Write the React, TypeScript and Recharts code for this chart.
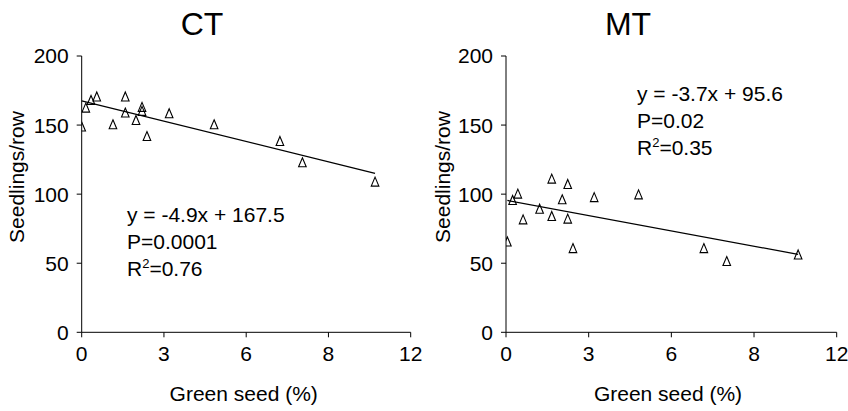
import React from "react";
import { ReferenceLine, Scatter, ScatterChart, XAxis, YAxis } from "recharts";

const FONT = "'Liberation Sans', Arial, Helvetica, sans-serif";

// green seed (%) per lot, and seedling counts under each tillage system
const ctGreenSeed = [0, 0.15, 0.34, 0.55, 1.14, 1.59, 1.59, 1.98, 2.2, 2.2, 2.38, 3.19, 4.83, 7.23, 8.05, 10.7];
const ctSeedlings = [148.6, 162.3, 167.8, 170.3, 150.2, 170.3, 158.7, 153.3, 162.8, 159.9, 141.7, 158.2, 150.2, 138.1, 122.7, 108.7];

const mtGreenSeed = [0.05, 0.24, 0.43, 0.62, 1.22, 1.66, 1.66, 2.04, 2.24, 2.24, 2.43, 3.2, 4.81, 7.18, 8.01, 10.6];
const mtSeedlings = [65.4, 95.4, 100, 81.4, 89.1, 110.9, 83.8, 95.9, 107, 81.9, 60.6, 97.5, 99.5, 60.6, 51.2, 56];

// fitted regressions (slope, intercept) and stats
const ctFit = { slope: -4.9, intercept: 167.5, p: "0.0001", r2: "0.76" };
const mtFit = { slope: -3.7, intercept: 95.6, p: "0.02", r2: "0.35" };

const xTicks = [0, 3, 6, 9, 12];
const xTickLabels = ["0", "3", "6", "8", "12"];
const yTicks = [0, 50, 100, 150, 200];

type Fit = typeof ctFit;

function Triangle(props: any) {
  const { cx, cy } = props;
  return (
    <path
      d={`M${cx},${cy - 5}L${cx + 3.8},${cy + 4}L${cx - 3.8},${cy + 4}Z`}
      fill="none"
      stroke="#000"
      strokeWidth={1.1}
    />
  );
}

function fmtSlope(m: number) {
  return `y = ${m}x + `;
}

interface PanelProps {
  title: string;
  xs: number[];
  ys: number[];
  fit: Fit;
  width: number;
  margin: { top: number; right: number; bottom: number; left: number };
  statsX: number;
  statsY: number;
}

function Panel({ title, xs, ys, fit, width, margin, statsX, statsY }: PanelProps) {
  const points = xs.map((x, i) => ({ x, y: ys[i] }));
  const x0 = Math.min(...xs);
  const x1 = Math.max(...xs);
  const txt = { fontFamily: FONT, fill: "#000" };

  return (
    <ScatterChart width={width} height={411} margin={margin}>
      <XAxis
        type="number"
        dataKey="x"
        domain={[0, 12]}
        ticks={xTicks}
        tickFormatter={(v: number) => xTickLabels[xTicks.indexOf(v)] ?? String(v)}
        stroke="#000"
        tickSize={5}
        tickMargin={9}
        tick={{ ...txt, fontSize: 21 }}
        allowDataOverflow
      />
      <YAxis
        type="number"
        dataKey="y"
        domain={[0, 200]}
        ticks={yTicks}
        stroke="#000"
        tickSize={5}
        tickMargin={8}
        tick={{ ...txt, fontSize: 21 }}
        width={60}
      />
      <ReferenceLine
        segment={[
          { x: x0, y: fit.intercept + fit.slope * x0 },
          { x: x1, y: fit.intercept + fit.slope * x1 },
        ]}
        stroke="#000"
        strokeWidth={1.3}
      />
      <Scatter data={points} shape={<Triangle />} isAnimationActive={false} />

      <text x={202} y={35} textAnchor="middle" fontSize={32} {...txt}>
        {title}
      </text>
      <text
        x={24}
        y={177}
        textAnchor="middle"
        fontSize={21}
        transform="rotate(-90, 24, 177)"
        {...txt}
      >
        Seedlings/row
      </text>
      <text x={margin.left + 60 + 162} y={401} textAnchor="middle" fontSize={21} {...txt}>
        Green seed (%)
      </text>

      <text x={statsX} y={statsY} fontSize={21} {...txt}>
        {fmtSlope(fit.slope)}
        {fit.intercept}
      </text>
      <text x={statsX} y={statsY + 27} fontSize={21} {...txt}>
        P={fit.p}
      </text>
      <text x={statsX} y={statsY + 54} fontSize={21} {...txt}>
        R
        <tspan fontSize={13} dy={-8}>
          2
        </tspan>
        <tspan dy={8}>={fit.r2}</tspan>
      </text>
    </ScatterChart>
  );
}

export default function App() {
  return (
    <div
      style={{
        position: "absolute",
        left: 0,
        top: 0,
        width: 848,
        height: 411,
        background: "#fff",
        fontFamily: FONT,
      }}
    >
      <div style={{ position: "absolute", left: 0, top: 0 }}>
        <Panel
          title="CT"
          xs={ctGreenSeed}
          ys={ctSeedlings}
          fit={ctFit}
          width={426}
          margin={{ top: 56, right: 15.3, bottom: 48.7, left: 21.7 }}
          statsX={127}
          statsY={222}
        />
      </div>
      <div style={{ position: "absolute", left: 426, top: 0 }}>
        <Panel
          title="MT"
          xs={mtGreenSeed}
          ys={mtSeedlings}
          fit={mtFit}
          width={422}
          margin={{ top: 56, right: 11.3, bottom: 48.7, left: 20 }}
          statsX={211}
          statsY={101}
        />
      </div>
    </div>
  );
}
